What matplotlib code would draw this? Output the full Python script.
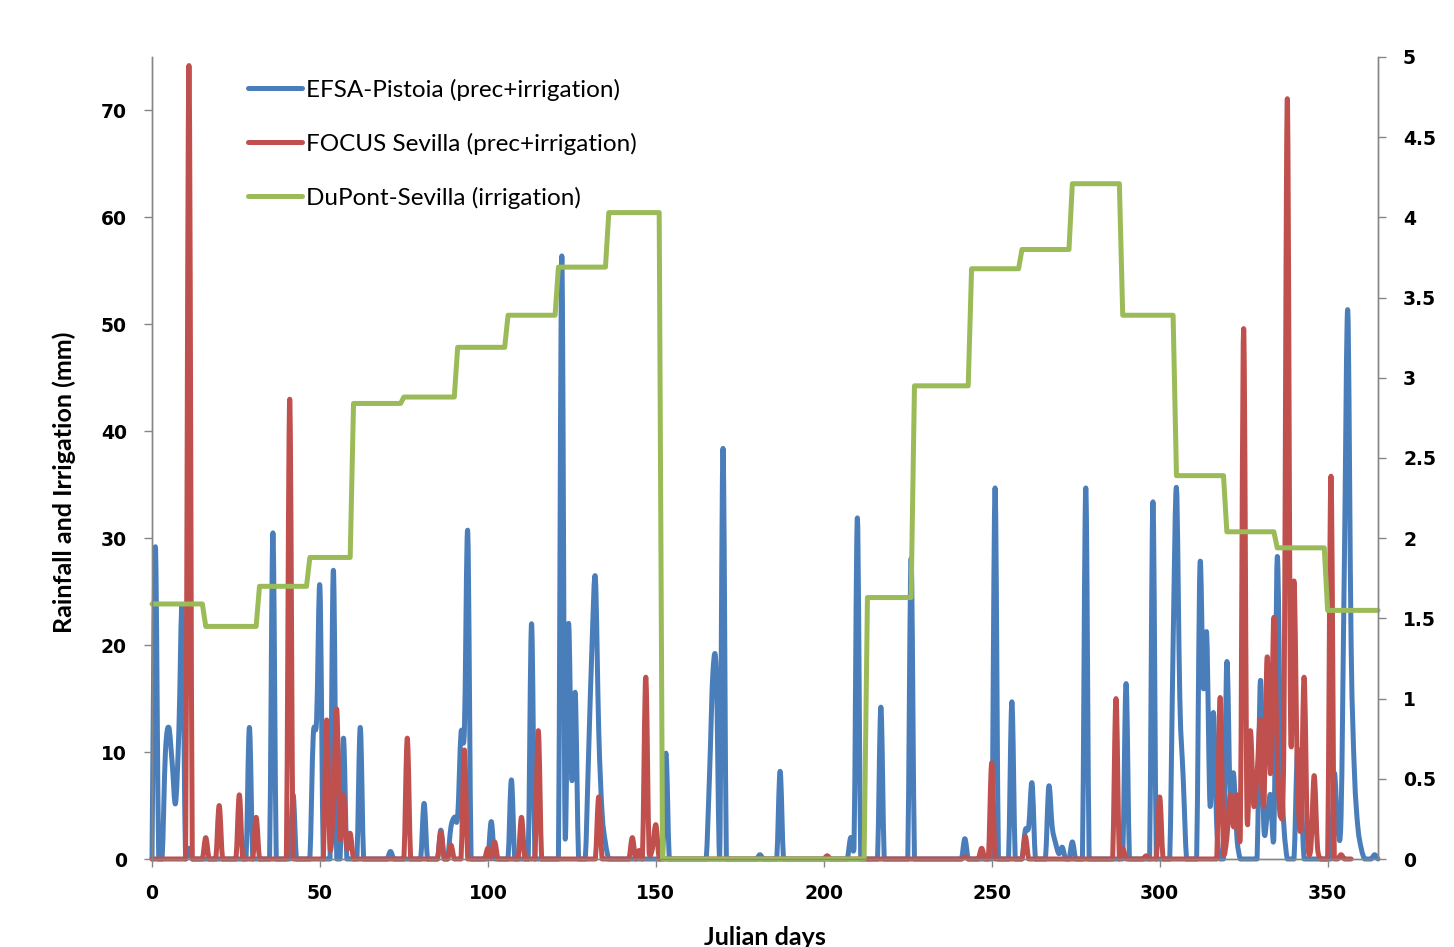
import numpy as np
import matplotlib.pyplot as plt
from matplotlib.path import Path
from matplotlib.patches import PathPatch
from matplotlib.lines import Line2D

# EFSA-Pistoia daily precipitation + irrigation (mm), non-zero days only
efsa_days = [1, 4, 5, 6, 7, 8, 9, 11, 29, 36, 42, 48, 49, 50, 54, 57, 62, 71, 81,
             86, 89, 90, 91, 92, 93, 94, 101, 107, 113, 122, 123, 124, 125, 126,
             130, 131, 132, 133, 134, 135, 153, 166, 167, 168, 170, 181, 187,
             208, 209, 210, 217, 226, 242, 251, 256, 260, 261, 262, 267, 268, 269,
             270, 271, 274, 278, 290, 298, 304, 305, 306, 307, 312, 313, 314, 315,
             316, 317, 320, 321, 322, 323, 330, 331, 332, 333, 334, 335, 336, 337,
             341, 342, 352, 353, 354, 355, 356, 357, 358, 359, 360, 364]
efsa_mm = [29.2, 10, 12.3, 9, 5.2, 12, 23.5, 1, 12.3, 30.5, 6, 11.5, 13, 25.4, 27, 11.3, 12.3, 0.7, 5.2,
           2.7, 3, 3.9, 4, 11.8, 12, 30.6, 3.5, 7.4, 22, 56.4, 2, 22, 7.4, 15.5,
           10, 20, 26.3, 12, 4.3, 1.5, 9.9, 8, 17.5, 17.5, 38.4, 0.4, 8.2,
           2, 1, 31.9, 14.2, 28.1, 1.9, 34.7, 14.7, 2.7, 3, 7.1, 6.8, 3, 1.5,
           0.5, 1.1, 1.6, 34.7, 16.4, 33.4, 20, 34.7, 15, 7.6, 27.5, 16, 21, 5,
           13.7, 3, 18.4, 6, 8, 2, 16.7, 3, 4, 6, 2, 28.2, 10, 3,
           10, 6.6, 8, 3, 4, 28, 51.3, 20, 8, 3, 1, 0.4]

# FOCUS Sevilla daily precipitation + irrigation (mm), non-zero days only
focus_days = [11, 16, 20, 26, 31, 41, 52, 53, 54, 55, 56, 57, 58, 59, 76, 86, 89,
              93, 100, 102, 110, 115, 133, 143, 145, 147, 148, 149, 150, 201, 242,
              247, 250, 260, 287, 289, 296, 300, 318, 319, 320, 321, 322, 323, 324,
              325, 326, 327, 328, 329, 330, 331, 332, 333, 334, 335, 336, 337, 338,
              339, 340, 341, 342, 343, 344, 345, 346, 347, 351, 354]
focus_mm = [74.2, 2, 5, 6, 3.9, 43, 13, 1, 5, 14, 2, 6, 1, 2.4, 11.3, 2.5, 1.3,
            10.2, 1, 1.6, 3.9, 12, 5.8, 2, 0.8, 17, 0.5, 1, 3.2, 0.3, 0.2,
            1, 9, 2.1, 15, 1, 0.3, 5.8, 15.1, 0.5, 2, 6, 3, 6, 2,
            49.6, 4, 12, 5, 8, 13, 5, 18.9, 8, 22.6, 10, 4, 12, 71.1,
            12, 26, 8, 3, 17, 2, 1, 7.8, 1, 35.8, 0.4]

# DuPont-Sevilla irrigation (mm/day, right axis): level from each start day
dupont_start = [0, 16, 32, 47, 60, 75, 91, 106, 121, 136, 152, 213, 227, 244,
                259, 274, 289, 305, 320, 335, 350]
dupont_mm = [1.59, 1.45, 1.70, 1.88, 2.84, 2.88, 3.19, 3.39, 3.69, 4.03, 0.0,
             1.63, 2.95, 3.68, 3.80, 4.21, 3.39, 2.39, 2.04, 1.94, 1.55]

blue = '#4a7ebb'
red = '#c0504d'
green = '#9bbb59'
grey = '#868686'
LW = 3.6

days = np.arange(366)
efsa = np.zeros(366)
efsa[efsa_days] = efsa_mm
focus = np.zeros(358)
focus[focus_days] = focus_mm
dupont = np.repeat(dupont_mm, np.diff(dupont_start + [366]))


def smooth_path(x, y):
    # Excel-like smoothed line: cubic Bezier through every point (Catmull-Rom),
    # control points kept at or above zero so the curve does not dip below 0
    pts = np.column_stack([x, y]).astype(float)
    p = np.vstack([pts[0], pts, pts[-1]])
    verts = [pts[0]]
    for i in range(len(pts) - 1):
        c1 = pts[i] + (p[i + 2] - p[i]) / 6
        c2 = pts[i + 1] - (p[i + 3] - p[i + 1]) / 6
        c1[1] = max(c1[1], 0)
        c2[1] = max(c2[1], 0)
        verts += [c1, c2, pts[i + 1]]
    codes = [Path.MOVETO] + [Path.CURVE4] * (3 * (len(pts) - 1))
    return Path(verts, codes)


fig = plt.figure(figsize=(14.54, 9.47), dpi=100)
ax = fig.add_axes([152 / 1454, 1 - 859 / 947, 1226 / 1454, 802 / 947])
ax2 = ax.twinx()

ax.add_patch(PathPatch(smooth_path(days, efsa), fill=False, edgecolor=blue, lw=LW,
                       joinstyle='round', capstyle='round', clip_on=False))
ax.add_patch(PathPatch(smooth_path(days[:358], focus), fill=False, edgecolor=red, lw=LW,
                       joinstyle='round', capstyle='round', clip_on=False))
ax2.plot(days, dupont, color=green, lw=LW, solid_joinstyle='round',
         solid_capstyle='round', clip_on=False)

ax.set_xlim(0, 365)
ax.set_ylim(0, 75)
ax2.set_ylim(0, 5)
ax.set_xticks(np.arange(0, 351, 50))
ax.set_yticks(np.arange(0, 71, 10))
ax2.set_yticks(np.arange(0, 5.01, 0.5))
ax2.set_yticklabels(['0', '0.5', '1', '1.5', '2', '2.5', '3', '3.5', '4', '4.5', '5'])

for a in (ax, ax2):
    a.spines['top'].set_visible(False)
    for s in ('left', 'right', 'bottom'):
        a.spines[s].set_color(grey)
        a.spines[s].set_linewidth(1)
    a.tick_params(colors=grey, length=6, width=1, labelcolor='black',
                  labelsize=13.5, pad=12)
    for t in a.get_xticklabels() + a.get_yticklabels():
        t.set_fontweight('bold')
        t.set_family('DejaVu Sans')

ax.set_ylabel('Rainfall and Irrigation (mm)', fontsize=18, fontweight='bold', family='Lato')
ax.yaxis.set_label_coords(-0.062, 0.47)
ax.set_xlabel('Julian days', fontsize=18, fontweight='bold', family='Lato')
ax.xaxis.set_label_coords(0.5, -0.083)

handles = [Line2D([], [], color=c, lw=LW, solid_capstyle='round') for c in (blue, red, green)]
labels = ['EFSA-Pistoia (prec+irrigation)', 'FOCUS Sevilla (prec+irrigation)',
          'DuPont-Sevilla (irrigation)']
ax2.legend(handles, labels, loc='upper left', bbox_to_anchor=(0.078, 0.973),
           frameon=False, borderpad=0, borderaxespad=0, handlelength=2.22,
           handletextpad=0.2, labelspacing=1.31, prop={'family': 'Lato', 'size': 17.5})

fig.savefig('out.png', dpi=100)
